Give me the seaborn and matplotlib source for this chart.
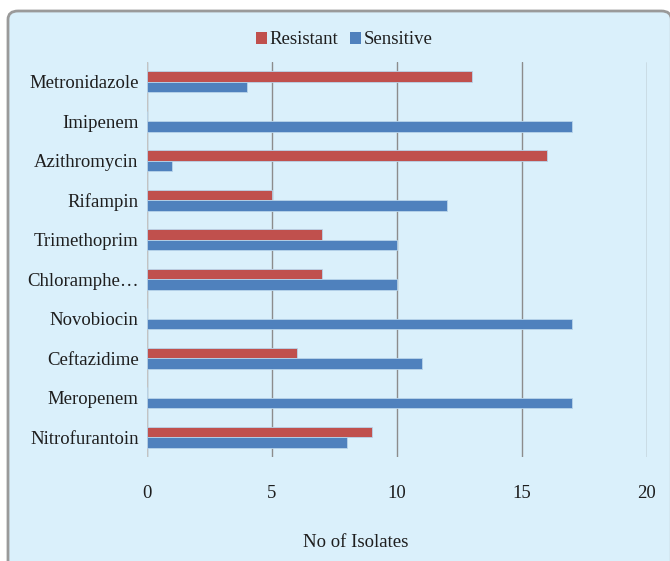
import matplotlib
matplotlib.use("Agg")
import matplotlib.pyplot as plt
from matplotlib.patches import FancyBboxPatch, Patch
import seaborn as sns
import pandas as pd

antibiotics = ["Metronidazole", "Imipenem", "Azithromycin", "Rifampin", "Trimethoprim",
               "Chloramphe…", "Novobiocin", "Ceftazidime", "Meropenem", "Nitrofurantoin"]
resistant = [13, 0, 16, 5, 7, 7, 0, 6, 0, 9]
sensitive = [4, 17, 1, 12, 10, 10, 17, 11, 17, 8]
series = ["Resistant", "Sensitive"]
colors = ["#c0504d", "#4f81bd"]
x_ticks = [0, 5, 10, 15, 20]

df = pd.DataFrame({
    "Antibiotic": antibiotics * 2,
    "Result": [series[0]] * len(antibiotics) + [series[1]] * len(antibiotics),
    "Count": resistant + sensitive,
})

sns.set_theme(style="white")
plt.rcParams["font.family"] = ["Liberation Serif", "DejaVu Serif"]

bg = "#daf0fb"
fs = 13.5
txt = "#1e1e1e"
fig = plt.figure(figsize=(6.7, 5.61), dpi=100)
fig.patch.set_facecolor("white")

# rounded panel behind the chart
W, H = 670, 561
panel = FancyBboxPatch((8 / W, -0.05), 0.99, (H - 11) / H + 0.05,
                       boxstyle="round,pad=0,rounding_size=0.015",
                       transform=fig.transFigure, facecolor=bg,
                       edgecolor="#9a9a9a", linewidth=2, zorder=-10)
fig.patches.append(panel)

ax = fig.add_axes([147 / W, 1 - 457 / H, 500 / W, 395 / H])
ax.set_zorder(1)
ax.patch.set_alpha(0)

sns.barplot(data=df, y="Antibiotic", x="Count", hue="Result", hue_order=series,
            order=antibiotics, palette=colors, saturation=1, orient="h", width=0.54,
            edgecolor="#b8d4ea", linewidth=0.6, ax=ax, legend=False, zorder=3)

ax.set_xlim(0, 20)
ax.set_xticks(x_ticks)
ax.set_xticklabels([str(t) for t in x_ticks])
ax.grid(axis="x", color="#8c8c8c", linewidth=1.0, zorder=1)
ax.grid(axis="y", visible=False)
ax.set_axisbelow(True)
ax.axvline(0, color="#cfcfcf", linewidth=1.2, zorder=2)
for s in ax.spines.values():
    s.set_visible(False)

ax.tick_params(axis="x", length=0, pad=20, labelsize=fs, labelcolor=txt)
ax.tick_params(axis="y", length=0, pad=6, labelsize=fs, labelcolor=txt)
ax.set_ylabel("")
ax.set_xlabel("No of Isolates", fontsize=fs, color=txt, labelpad=23)
# axis title sits centred on the panel rather than on the plot area
ax.xaxis.label.set_x((356 - 147) / 500)

handles = [Patch(facecolor=c, edgecolor="none") for c in colors]
fig.legend(handles, series, loc="center", bbox_to_anchor=(344 / W, 1 - 40 / H),
           ncol=2, frameon=False, fontsize=fs, handlelength=0.6, handleheight=0.6,
           handletextpad=0.15, columnspacing=0.6, labelcolor=txt)

fig.savefig("out.png", dpi=100, facecolor="white")
